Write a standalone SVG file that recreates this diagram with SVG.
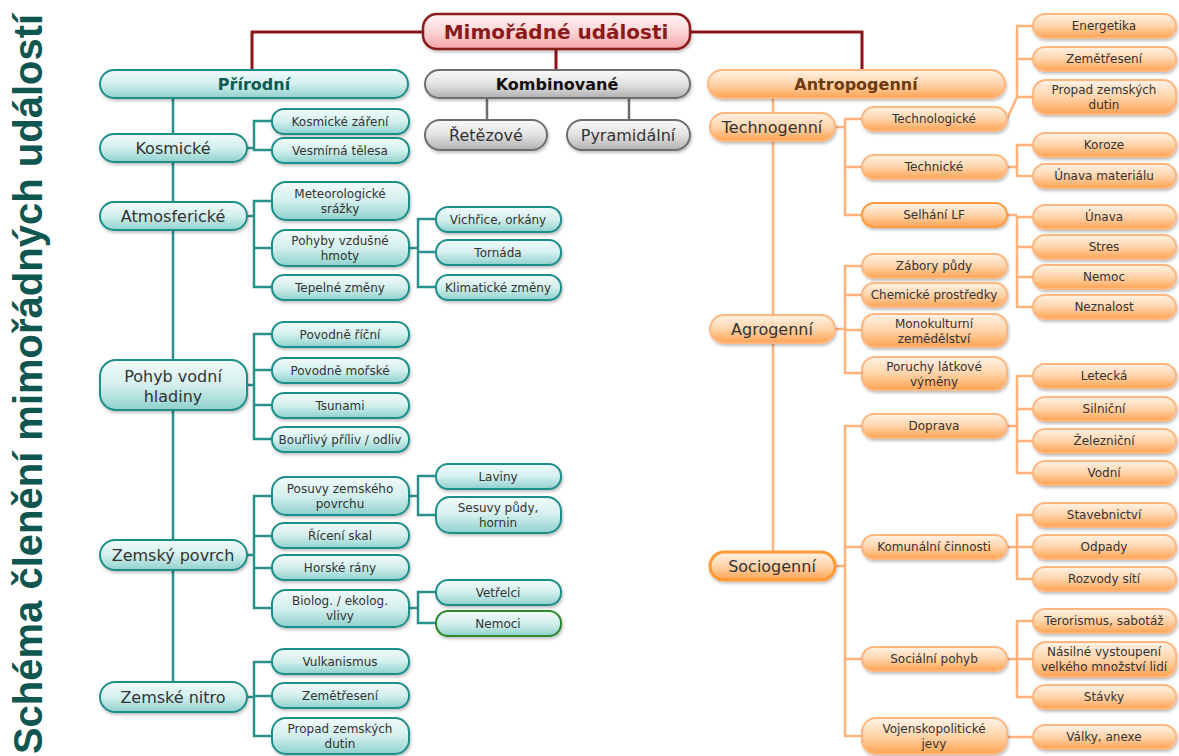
<svg xmlns="http://www.w3.org/2000/svg" width="1179" height="756" viewBox="0 0 1179 756">
<defs>
<linearGradient id="gt" x1="0" y1="0" x2="0" y2="1"><stop offset="0" stop-color="#f1fbfa"/><stop offset="0.5" stop-color="#d3efed"/><stop offset="1" stop-color="#8fd1cd"/></linearGradient>
<linearGradient id="go" x1="0" y1="0" x2="0" y2="1"><stop offset="0" stop-color="#fff3e6"/><stop offset="0.5" stop-color="#ffd4aa"/><stop offset="1" stop-color="#ffa352"/></linearGradient>
<linearGradient id="gg" x1="0" y1="0" x2="0" y2="1"><stop offset="0" stop-color="#fafafa"/><stop offset="0.5" stop-color="#e2e2e2"/><stop offset="1" stop-color="#b0b0b0"/></linearGradient>
<linearGradient id="gr" x1="0" y1="0" x2="0" y2="1"><stop offset="0" stop-color="#fff3f3"/><stop offset="0.5" stop-color="#fcd6d7"/><stop offset="1" stop-color="#f2a3a6"/></linearGradient>
<filter id="sh" x="-10%" y="-20%" width="120%" height="160%"><feDropShadow dx="1" dy="2" stdDeviation="1.5" flood-color="#000" flood-opacity="0.25"/></filter>
</defs>
<style>
text{font-family:"DejaVu Sans",Verdana,sans-serif;font-size:12px;fill:#333;text-anchor:middle}
rect{filter:url(#sh)}
.t rect{fill:url(#gt);stroke:#1f8f8a;stroke-width:2}
.o rect{fill:url(#go);stroke:#ffb67f;stroke-width:2}
.g rect{fill:url(#gg);stroke:#6e6e6e;stroke-width:2}
.r rect{fill:url(#gr);stroke:#8b1a1a;stroke-width:2.5}
.big text{font-size:16px}
.ct{fill:none;stroke:#2a908b;stroke-width:2.5}
.co{fill:none;stroke:#ffb27a;stroke-width:2.5}
.cg{fill:none;stroke:#6e6e6e;stroke-width:2.5}
.cr{fill:none;stroke:#8b1518;stroke-width:3}
.title{font-family:"Liberation Sans",Arial,sans-serif;font-weight:bold;font-size:40px;fill:#0f5650}
</style>
<text class="title" transform="translate(42,384) rotate(-90)">Schéma členění mimořádných událostí</text>
<g id="connectors">
<path class="cr" d="M423 32 H252 V70 M690 32 H862 V70 M556 49 V70"/>
<path class="cg" d="M487 98 V120 M629 98 V120"/>
<path class="ct" d="M173 98 V682
M247 148 H254 M272 121 H254 V150 H272
M247 216 H254 M272 201 H254 V287 H272 M254 248 H272
M409 248 H418 M436 219 H418 V287 H436 M418 252 H436
M247 385 H254 M272 334 H254 V439 H272 M254 370 H272 M254 405 H272
M247 555 H254 M272 496 H254 V608 H272 M254 536 H272 M254 568 H272
M409 496 H418 M436 476 H418 V515 H436
M409 608 H418 M436 592 H418 V623 H436
M247 697 H254 M272 662 H254 V736 H272 M254 696 H272"/>
<path class="co" d="M773 98 V552
M835 127 H845 M862 119 H845 V215 H862 M845 167 H862
M1007 119 L1017 97 M1033 26 H1017 V97 H1033 M1017 59 H1033
M1007 167 H1017 M1033 145 H1017 V176 H1033
M1007 215 H1017 M1033 217 H1017 V307 H1033 M1017 247 H1033 M1017 277 H1033
M835 329 H845 M862 266 H845 V373 H862 M845 295 H862 M845 330 H862
M835 566 H845 M862 426 H845 V736 H862 M845 547 H862 M845 659 H862
M1007 426 H1017 M1033 376 H1017 V473 H1033 M1017 409 H1033 M1017 441 H1033
M1007 547 H1017 M1033 515 H1017 V579 H1033 M1017 547 H1033
M1007 659 H1017 M1033 621 H1017 V697 H1033 M1017 659 H1033
M1007 737 H1033"/>
</g>
<g id="root" class="r"><rect x="423" y="14" width="267" height="35" rx="14"/><text x="556" y="39" style="font-size:20px;font-weight:bold;fill:#8b1a1a">Mimořádné události</text></g>
<g id="prirodni" class="t"><rect x="100" y="70" width="308" height="28" rx="14"/><text x="254" y="90" style="font-size:16px;font-weight:bold;fill:#0d5a55">Přírodní</text></g>
<g id="kombinovane" class="g"><rect x="425" y="70" width="265" height="28" rx="14"/><text x="557" y="90" style="font-size:16px;font-weight:bold;fill:#111">Kombinované</text></g>
<g id="antropogenni" class="o"><rect x="708" y="70" width="297" height="28" rx="14"/><text x="856" y="90" style="font-size:16px;font-weight:bold;fill:#6e3a10">Antropogenní</text></g>
<g id="retezove" class="g big"><rect x="425" y="120" width="122" height="30" rx="15"/><text x="486" y="141">Řetězové</text></g>
<g id="pyramidalni" class="g big"><rect x="567" y="120" width="123" height="30" rx="15"/><text x="628" y="141">Pyramidální</text></g>

<g id="kosmicke" class="t big"><rect x="100" y="134" width="147" height="28" rx="14"/><text x="173" y="154">Kosmické</text></g>
<g id="atmosfericke" class="t big"><rect x="100" y="202" width="147" height="28" rx="14"/><text x="173" y="222">Atmosferické</text></g>
<g id="pohyb-vodni" class="t big"><rect x="100" y="360" width="147" height="50" rx="16"/><text x="173" y="382">Pohyb vodní</text><text x="173" y="402">hladiny</text></g>
<g id="zemsky-povrch" class="t big"><rect x="100" y="540" width="147" height="30" rx="15"/><text x="173" y="561">Zemský povrch</text></g>
<g id="zemske-nitro" class="t big"><rect x="100" y="682" width="147" height="30" rx="15"/><text x="173" y="703">Zemské nitro</text></g>

<g id="kosmicke-zareni" class="t"><rect x="272" y="109" width="137" height="25" rx="12"/><text x="340" y="126">Kosmické záření</text></g>
<g id="vesmirna-telesa" class="t"><rect x="272" y="138" width="137" height="25" rx="12"/><text x="340" y="155">Vesmírná tělesa</text></g>
<g id="meteorologicke" class="t"><rect x="272" y="182" width="137" height="38" rx="14"/><text x="340" y="198">Meteorologické</text><text x="340" y="213">srážky</text></g>
<g id="pohyby-vzdusne" class="t"><rect x="272" y="230" width="137" height="36" rx="14"/><text x="340" y="245">Pohyby vzdušné</text><text x="340" y="260">hmoty</text></g>
<g id="tepelne-zmeny" class="t"><rect x="272" y="275" width="137" height="25" rx="12"/><text x="340" y="292">Tepelné změny</text></g>
<g id="vichrice" class="t"><rect x="436" y="207" width="125" height="25" rx="12"/><text x="498" y="224">Vichřice, orkány</text></g>
<g id="tornada" class="t"><rect x="436" y="240" width="125" height="25" rx="12"/><text x="498" y="257">Tornáda</text></g>
<g id="klimaticke" class="t"><rect x="436" y="275" width="125" height="25" rx="12"/><text x="498" y="292">Klimatické změny</text></g>

<g id="povodne-ricni" class="t"><rect x="272" y="322" width="137" height="25" rx="12"/><text x="340" y="339">Povodně říční</text></g>
<g id="povodne-morske" class="t"><rect x="272" y="358" width="137" height="25" rx="12"/><text x="340" y="375">Povodně mořské</text></g>
<g id="tsunami" class="t"><rect x="272" y="393" width="137" height="25" rx="12"/><text x="340" y="410">Tsunami</text></g>
<g id="bourlivy" class="t"><rect x="272" y="427" width="137" height="25" rx="12"/><text x="340" y="444">Bouřlivý příliv / odliv</text></g>

<g id="posuvy" class="t"><rect x="272" y="477" width="137" height="38" rx="14"/><text x="340" y="493">Posuvy zemského</text><text x="340" y="508">povrchu</text></g>
<g id="riceni-skal" class="t"><rect x="272" y="523" width="137" height="25" rx="12"/><text x="340" y="540">Řícení skal</text></g>
<g id="horske-rany" class="t"><rect x="272" y="555" width="137" height="25" rx="12"/><text x="340" y="572">Horské rány</text></g>
<g id="biolog" class="t"><rect x="272" y="590" width="137" height="37" rx="14"/><text x="340" y="605">Biolog. / ekolog.</text><text x="340" y="620">vlivy</text></g>
<g id="laviny" class="t"><rect x="436" y="464" width="125" height="25" rx="12"/><text x="498" y="481">Laviny</text></g>
<g id="sesuvy" class="t"><rect x="436" y="497" width="125" height="36" rx="14"/><text x="498" y="512">Sesuvy půdy,</text><text x="498" y="527">hornin</text></g>
<g id="vetrelci" class="t"><rect x="436" y="580" width="125" height="25" rx="12"/><text x="498" y="597">Vetřelci</text></g>
<g id="nemoci" class="t"><rect x="436" y="611" width="125" height="25" rx="12" style="stroke:#2f8a2f"/><text x="498" y="628">Nemoci</text></g>

<g id="vulkanismus" class="t"><rect x="272" y="649" width="137" height="25" rx="12"/><text x="340" y="666">Vulkanismus</text></g>
<g id="zemetreseni-l" class="t"><rect x="272" y="683" width="137" height="25" rx="12"/><text x="340" y="700">Zemětřesení</text></g>
<g id="propad-l" class="t"><rect x="272" y="718" width="137" height="36" rx="14"/><text x="340" y="733">Propad zemských</text><text x="340" y="748">dutin</text></g>

<g id="technogenni" class="o big"><rect x="710" y="113" width="125" height="28" rx="14"/><text x="772" y="133">Technogenní</text></g>
<g id="agrogenni" class="o big"><rect x="710" y="315" width="125" height="28" rx="14"/><text x="772" y="335">Agrogenní</text></g>
<g id="sociogenni" class="o big"><rect x="710" y="552" width="125" height="28" rx="14" style="stroke:#ff9a36;stroke-width:3"/><text x="772" y="572">Sociogenní</text></g>

<g id="technologicke" class="o"><rect x="862" y="107" width="145" height="24" rx="12"/><text x="934" y="123">Technologické</text></g>
<g id="technicke" class="o"><rect x="862" y="155" width="145" height="24" rx="12"/><text x="934" y="171">Technické</text></g>
<g id="selhani" class="o"><rect x="862" y="203" width="145" height="24" rx="12" style="stroke:#ff9b40"/><text x="934" y="219">Selhání LF</text></g>
<g id="energetika" class="o"><rect x="1033" y="14" width="143" height="24" rx="12"/><text x="1104" y="30">Energetika</text></g>
<g id="zemetreseni-r" class="o"><rect x="1033" y="47" width="143" height="24" rx="12"/><text x="1104" y="63">Zemětřesení</text></g>
<g id="propad-r" class="o"><rect x="1033" y="80" width="143" height="34" rx="13"/><text x="1104" y="94">Propad zemských</text><text x="1104" y="109">dutin</text></g>
<g id="koroze" class="o"><rect x="1033" y="133" width="143" height="24" rx="12"/><text x="1104" y="149">Koroze</text></g>
<g id="unava-mat" class="o"><rect x="1033" y="164" width="143" height="24" rx="12"/><text x="1104" y="180">Únava materiálu</text></g>
<g id="unava" class="o"><rect x="1033" y="205" width="143" height="24" rx="12"/><text x="1104" y="221">Únava</text></g>
<g id="stres" class="o"><rect x="1033" y="235" width="143" height="24" rx="12"/><text x="1104" y="251">Stres</text></g>
<g id="nemoc" class="o"><rect x="1033" y="265" width="143" height="24" rx="12"/><text x="1104" y="281">Nemoc</text></g>
<g id="neznalost" class="o"><rect x="1033" y="295" width="143" height="24" rx="12"/><text x="1104" y="311">Neznalost</text></g>

<g id="zabory" class="o"><rect x="862" y="254" width="145" height="24" rx="12"/><text x="934" y="270">Zábory půdy</text></g>
<g id="chemicke" class="o"><rect x="862" y="283" width="145" height="24" rx="12"/><text x="934" y="299">Chemické prostředky</text></g>
<g id="monokulturni" class="o"><rect x="862" y="314" width="145" height="33" rx="13"/><text x="934" y="328">Monokulturní</text><text x="934" y="343">zemědělství</text></g>
<g id="poruchy" class="o"><rect x="862" y="357" width="145" height="33" rx="13"/><text x="934" y="371">Poruchy látkové</text><text x="934" y="386">výměny</text></g>

<g id="doprava" class="o"><rect x="862" y="414" width="145" height="24" rx="12"/><text x="934" y="430">Doprava</text></g>
<g id="komunalni" class="o"><rect x="862" y="535" width="145" height="24" rx="12"/><text x="934" y="551">Komunální činnosti</text></g>
<g id="socialni" class="o"><rect x="862" y="647" width="145" height="24" rx="12"/><text x="934" y="663">Sociální pohyb</text></g>
<g id="vojensko" class="o"><rect x="862" y="718" width="145" height="36" rx="14"/><text x="934" y="733">Vojenskopolitické</text><text x="934" y="748">jevy</text></g>
<g id="letecka" class="o"><rect x="1033" y="364" width="143" height="24" rx="12"/><text x="1104" y="380">Letecká</text></g>
<g id="silnicni" class="o"><rect x="1033" y="397" width="143" height="24" rx="12"/><text x="1104" y="413">Silniční</text></g>
<g id="zeleznicni" class="o"><rect x="1033" y="429" width="143" height="24" rx="12"/><text x="1104" y="445">Železniční</text></g>
<g id="vodni" class="o"><rect x="1033" y="461" width="143" height="24" rx="12"/><text x="1104" y="477">Vodní</text></g>
<g id="stavebnictvi" class="o"><rect x="1033" y="503" width="143" height="24" rx="12"/><text x="1104" y="519">Stavebnictví</text></g>
<g id="odpady" class="o"><rect x="1033" y="535" width="143" height="24" rx="12"/><text x="1104" y="551">Odpady</text></g>
<g id="rozvody" class="o"><rect x="1033" y="567" width="143" height="24" rx="12"/><text x="1104" y="583">Rozvody sítí</text></g>
<g id="terorismus" class="o"><rect x="1033" y="609" width="143" height="24" rx="12"/><text x="1104" y="625">Terorismus, sabotáž</text></g>
<g id="nasilne" class="o"><rect x="1033" y="642" width="143" height="35" rx="13"/><text x="1104" y="656">Násilné vystoupení</text><text x="1104" y="671">velkého množství lidí</text></g>
<g id="stavky" class="o"><rect x="1033" y="685" width="143" height="24" rx="12"/><text x="1104" y="701">Stávky</text></g>
<g id="valky" class="o"><rect x="1033" y="725" width="143" height="24" rx="12"/><text x="1104" y="741">Války, anexe</text></g>
</svg>
